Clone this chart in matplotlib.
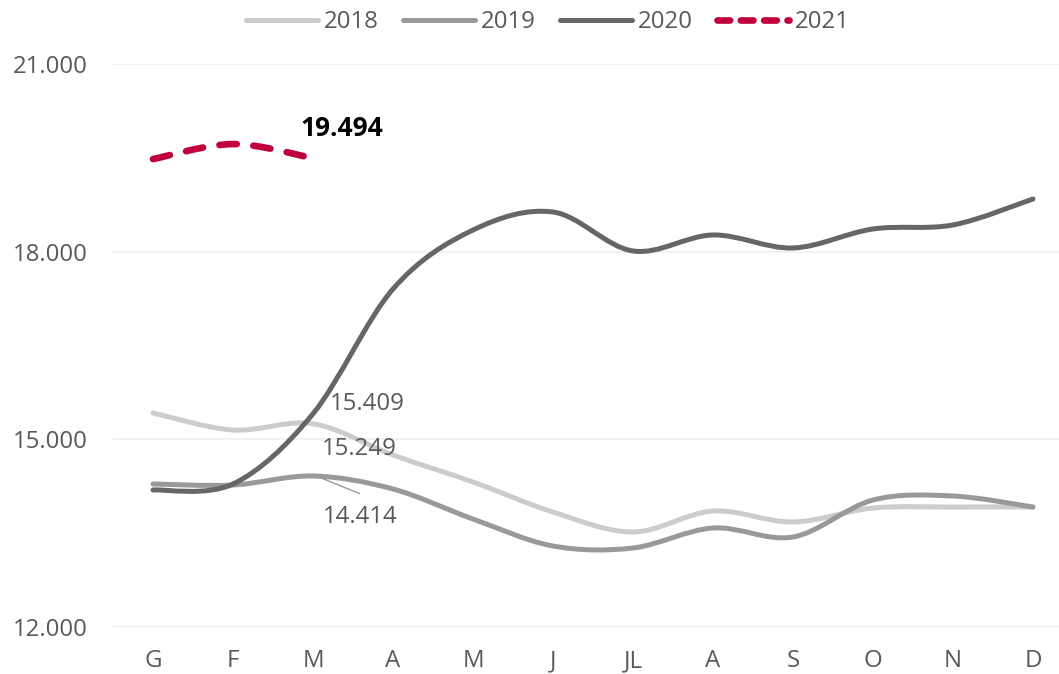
import matplotlib
matplotlib.use("Agg")
import matplotlib.pyplot as plt
from matplotlib.path import Path
from matplotlib.patches import PathPatch
from matplotlib.lines import Line2D
import numpy as np

MONTHS = ["G", "F", "M", "A", "M", "J", "JL", "A", "S", "O", "N", "D"]
V2018 = [15421, 15149, 15249, 14750, 14318, 13838, 13519, 13854, 13679, 13902, 13918, 13918]
V2019 = [14286, 14270, 14414, 14206, 13726, 13295, 13263, 13583, 13439, 14030, 14094, 13918]
V2020 = [14190, 14286, 15409, 17403, 18346, 18634, 18011, 18267, 18059, 18363, 18427, 18842]
V2021 = [19480, 19720, 19494]

YTICKS = [12000, 15000, 18000, 21000]
YTICK_LABELS = ["12.000", "15.000", "18.000", "21.000"]

TEXT = "#595959"
FONT = "Open Sans"
FS = 17.3


def smooth_path(xs, ys):
    # excel style smoothed line: cubic bezier, tangent = (next - prev) / 6
    pts = np.column_stack([xs, ys]).astype(float)
    n = len(pts)
    verts = [pts[0]]
    codes = [Path.MOVETO]
    for i in range(n - 1):
        p0 = pts[max(i - 1, 0)]
        p1 = pts[i]
        p2 = pts[i + 1]
        p3 = pts[min(i + 2, n - 1)]
        c1 = p1 + (p2 - p0) / 6
        c2 = p2 - (p3 - p1) / 6
        verts += [c1, c2, p2]
        codes += [Path.CURVE4] * 3
    return Path(verts, codes)


def add_line(ax, values, color, lw, dashes=None):
    xs = np.arange(len(values))
    patch = PathPatch(smooth_path(xs, values), facecolor="none", edgecolor=color,
                      lw=lw, capstyle="round", joinstyle="round", zorder=3)
    if dashes is not None:
        patch.set_linestyle((0, dashes))
    ax.add_patch(patch)


fig = plt.figure(figsize=(10.59, 6.74), dpi=100)
ax = fig.add_axes([113 / 1059, 47 / 674, 960 / 1059, 563 / 674])

add_line(ax, V2018, "#cccccc", 3.6)
add_line(ax, V2019, "#999999", 3.6)
add_line(ax, V2020, "#666666", 3.6)
add_line(ax, V2021, "#c0003c", 4.8, dashes=(2.6, 2.5))

ax.set_xlim(-0.5, 11.5)
ax.set_ylim(12000, 21000)
ax.set_xticks(range(len(MONTHS)))
ax.set_xticklabels(MONTHS)
ax.set_yticks(YTICKS)
ax.set_yticklabels(YTICK_LABELS)
for lab in ax.get_xticklabels() + ax.get_yticklabels():
    lab.set_fontfamily(FONT)
    lab.set_fontsize(FS)
    lab.set_color(TEXT)
ax.tick_params(axis="both", length=0)
ax.tick_params(axis="y", pad=18)
ax.tick_params(axis="x", pad=16)

for s in ax.spines.values():
    s.set_visible(False)
ax.grid(axis="y", color="#efefef", lw=1.2, zorder=0)
ax.axhline(12000, color="#d9d9d9", lw=1.5, zorder=1)

# data labels
ax.text(2 - 0.16, V2021[2] + 480, "19.494", fontsize=19, fontweight="bold",
        family=FONT, color="black", va="center", ha="left")
ax.text(2 + 0.21, V2020[2] + 160, "15.409", fontsize=FS, family=FONT, color=TEXT,
        va="center", ha="left")
ax.text(2 + 0.11, V2018[2] - 400, "15.249", fontsize=FS, family=FONT, color=TEXT,
        va="center", ha="left")
ax.text(2 + 0.12, V2019[2] - 660, "14.414", fontsize=FS, family=FONT, color=TEXT,
        va="center", ha="left")
ax.plot([2.04, 2.58], [V2019[2], V2019[2] - 280], color="#999999", lw=1, zorder=2)

handles = [
    Line2D([], [], color="#cccccc", lw=3.6, solid_capstyle="round"),
    Line2D([], [], color="#999999", lw=3.6, solid_capstyle="round"),
    Line2D([], [], color="#666666", lw=3.6, solid_capstyle="round"),
    Line2D([], [], color="#c0003c", lw=4.8, dashes=(1.9, 1.6), dash_capstyle="round"),
]
leg = fig.legend(handles, ["2018", "2019", "2020", "2021"], loc="center",
                 bbox_to_anchor=(548 / 1059, 1 - 22 / 674), ncol=4, frameon=False,
                 prop={"family": FONT, "size": FS}, handlelength=3.0,
                 handletextpad=0.25, columnspacing=1.0)
for t in leg.get_texts():
    t.set_color(TEXT)

fig.savefig("out.png", dpi=100)
